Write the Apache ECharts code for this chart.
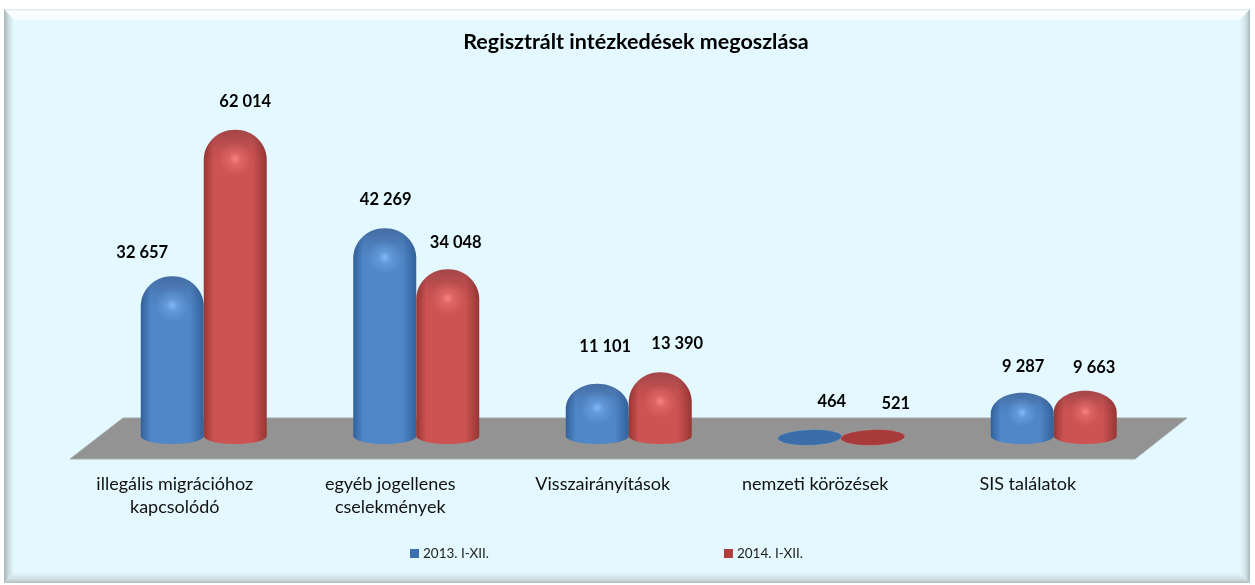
<!DOCTYPE html>
<html><head><meta charset="utf-8">
<style>html,body{margin:0;padding:0;background:#fff}#c{width:1255px;height:585px}</style>
<script src="https://cdn.jsdelivr.net/npm/echarts@6/dist/echarts.min.js"></script>
</head><body><div id="c"></div>
<script>
const categories = ['illegális migrációhoz\nkapcsolódó','egyéb jogellenes\ncselekmények','Visszairányítások','nemzeti körözések','SIS találatok'];
const seriesNames = ['2013. I-XII.','2014. I-XII.'];
const values2013 = [32657,42269,11101,464,9287];
const values2014 = [62014,34048,13390,521,9663];
const titleText = 'Regisztrált intézkedések megoszlása';

const labelShift = [29,26,26,26,26];
const labelOffsets = [
  [[-30,-24],[1,-29],[8,-37],[22,-35],[1,-26]],
  [[10,-28],[8,-27],[17,-29],[23,-33],[9,-23]]
];
const palettes = [
  {edge:'#31619b',mid:'#4f87c8',hi:'rgba(135,190,255,0.9)',flat:'#3b6ea8',legend:'#3c6fae'},
  {edge:'#963634',mid:'#cc5351',hi:'rgba(255,135,135,0.9)',flat:'#a83a3a',legend:'#b03c3b'}
];
const fmt = v => String(v).replace(/\B(?=(\d{3})+$)/g,' ');

function makeRender(si){
  const pal = palettes[si];
  return function(params, api){
    const idx = api.value(0), val = api.value(1);
    const pTop = api.coord([idx,val]), pBase = api.coord([idx,0]);
    const halfW = 31.5;
    const cx = pTop[0] + (si===0?-halfW:halfW);
    const base = pBase[1]-2, top = pTop[1];
    const off = labelOffsets[si][idx];
    const label = {type:'text',z2:50,style:{x:cx+off[0],y:top+off[1],text:fmt(val),align:'center',verticalAlign:'middle',
      font:'bold 16.5px Lato, sans-serif',fill:'#000'}};
    const h = pBase[1]-top;
    if(h < 10){
      return {type:'group',children:[
        {type:'ellipse',x:cx,y:base+0.5,rotation:0.035,shape:{cx:0,cy:0,rx:32,ry:7.8},
         style:{fill:pal.flat,stroke:'rgba(255,255,255,0.12)',lineWidth:1}},label]};
    }
    const dome = Math.min(30,h*0.45), shoulder = top+dome, ryB = 8;
    const l = cx-halfW, r = cx+halfW;
    const k = 0.5523;
    const body = `M${l} ${shoulder}C${l} ${shoulder-dome*k} ${cx-halfW*k} ${top} ${cx} ${top}`+
      `C${cx+halfW*k} ${top} ${r} ${shoulder-dome*k} ${r} ${shoulder}L${r} ${base-1}`+
      `C${r} ${base-1+ryB*k} ${cx+halfW*k} ${base-1+ryB} ${cx} ${base-1+ryB}`+
      `C${cx-halfW*k} ${base-1+ryB} ${l} ${base-1+ryB*k} ${l} ${base-1}Z`;
    const cap = `M${l} ${shoulder}C${l} ${shoulder-dome*k} ${cx-halfW*k} ${top} ${cx} ${top}`+
      `C${cx+halfW*k} ${top} ${r} ${shoulder-dome*k} ${r} ${shoulder}`+
      `C${r} ${shoulder+3} ${l} ${shoulder+3} ${l} ${shoulder}Z`;
    return {type:'group',children:[
      {type:'path',shape:{pathData:body,layout:'cover',x:l,y:top,width:r-l,height:base-1+ryB-top},style:{fill:{type:'linear',x:0,y:0,x2:1,y2:0,colorStops:[
        {offset:0,color:pal.edge},{offset:.16,color:pal.mid},{offset:.78,color:pal.mid},{offset:1,color:pal.edge}]}}},
      {type:'path',shape:{pathData:cap,layout:'cover',x:l,y:top,width:r-l,height:dome+2},style:{fill:{type:'linear',x:0,y:0,x2:0,y2:1,colorStops:[
        {offset:0,color:'rgba(40,30,50,0.25)'},{offset:.6,color:'rgba(40,30,50,0.06)'},{offset:1,color:'rgba(40,30,50,0)'}]}}},
      {type:'ellipse',shape:{cx:cx,cy:shoulder-1,rx:21,ry:Math.min(17,dome*0.7)},style:{fill:{type:'radial',x:.5,y:.5,r:.5,colorStops:[
        {offset:0,color:pal.hi},{offset:.35,color:pal.hi.replace(/[\d.]+\)$/,'0.35)')},{offset:1,color:pal.hi.replace(/[\d.]+\)$/,'0)')}]}}},
      label]};
  };
}

const chart = echarts.init(document.getElementById('c'),null,{renderer:'canvas'});
chart.setOption({
  animation:false,
  backgroundColor:'#ffffff',
  title:{text:titleText,left:631,textAlign:'center',top:26,itemGap:0,
    textStyle:{fontFamily:'Lato, sans-serif',fontWeight:'bold',fontSize:21.5,color:'#000'}},
  legend:{left:405,top:541.5,itemWidth:9,itemHeight:9,itemGap:235,icon:'rect',
    textStyle:{fontFamily:'Lato, sans-serif',fontSize:13.5,color:'#222',padding:[0,0,0,-1]},
    data:seriesNames.map((n,i)=>({name:n,itemStyle:{color:palettes[i].legend}}))},
  grid:{left:97.5,width:1062.5,top:90,height:349,containLabel:false},
  xAxis:{type:'category',
    data:categories.map((c,i)=>({value:c,textStyle:{padding:[0,labelShift[i]*2,0,0]}})),
    axisLine:{show:false},axisTick:{show:false},splitLine:{show:false},
    axisLabel:{interval:0,margin:34,lineHeight:23,fontFamily:'Lato, sans-serif',fontSize:18,color:'#111',hideOverlap:false}},
  yAxis:{type:'value',min:0,max:70000,show:false,splitLine:{show:false}},
  graphic:{elements:[
    {type:'rect',z:-10,shape:{x:4,y:9,width:1246,height:574},style:{fill:'#e4f9ff'}},
    {type:'polygon',z:-9,shape:{points:[[4,9],[1250,9],[1240,20],[14,20]]},style:{fill:{type:'linear',x:0,y:0,x2:0,y2:1,colorStops:[{offset:0,color:'#d5e3e6'},{offset:.2,color:'#ffffff'},{offset:1,color:'#f4fdff'}]}}},
    {type:'polygon',z:-9,shape:{points:[[4,9],[14,20],[14,572],[4,583]]},style:{fill:{type:'linear',x:0,y:0,x2:1,y2:0,colorStops:[{offset:0,color:'#a9b7ba'},{offset:.5,color:'#cfdfe3'},{offset:1,color:'#e4f9ff'}]}}},
    {type:'polygon',z:-9,shape:{points:[[1250,9],[1240,20],[1240,572],[1250,583]]},style:{fill:{type:'linear',x:0,y:0,x2:1,y2:0,colorStops:[{offset:0,color:'#e4f9ff'},{offset:.6,color:'#cfdfe3'},{offset:1,color:'#a9b7ba'}]}}},
    {type:'polygon',z:-9,shape:{points:[[4,583],[14,572],[1240,572],[1250,583]]},style:{fill:{type:'linear',x:0,y:0,x2:0,y2:1,colorStops:[{offset:0,color:'#e4f9ff'},{offset:.6,color:'#d2e2e6'},{offset:1,color:'#b0bfc2'}]}}},
    {type:'polygon',z:-5,shape:{points:[[123,418],[1187,418],[1135,459],[70,459]]},style:{fill:'#939393',stroke:'#a5a9a9',lineWidth:1}}
  ]},
  series:seriesNames.map((n,si)=>({
    name:n,type:'custom',coordinateSystem:'cartesian2d',z:3+si,clip:false,
    itemStyle:{color:palettes[si].legend},
    encode:{x:0,y:1},
    renderItem:makeRender(si),
    data:(si===0?values2013:values2014).map((v,i)=>[i,v])
  }))
});
</script></body></html>
